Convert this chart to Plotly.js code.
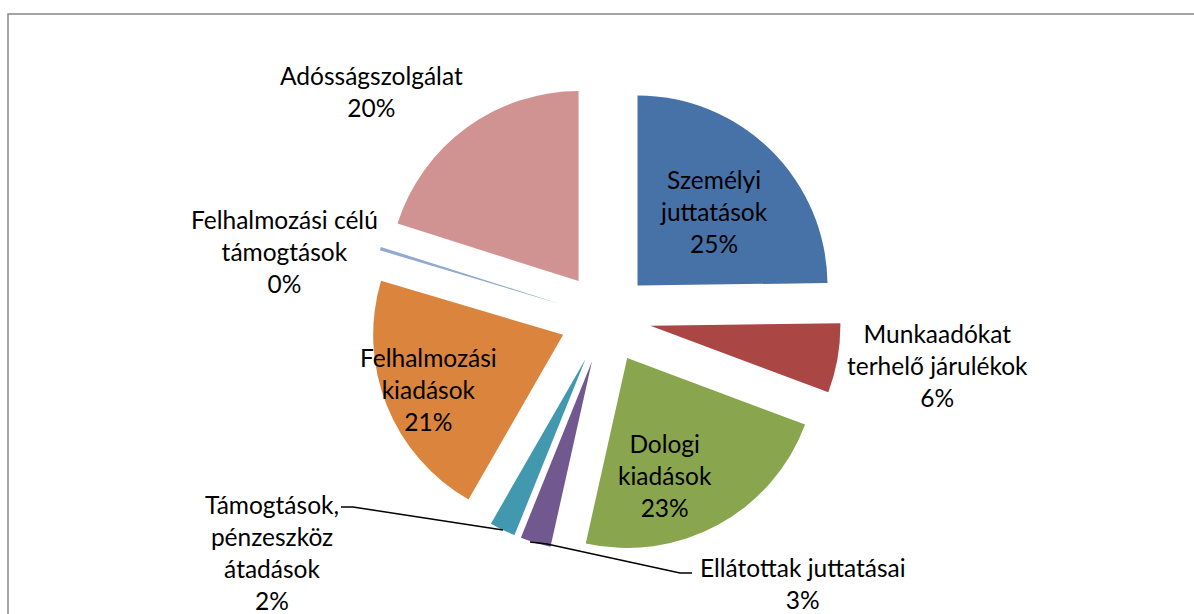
<!DOCTYPE html>
<html>
<head>
<meta charset="utf-8">
<script src="https://cdn.plot.ly/plotly-3.0.1.min.js"></script>
<style>html,body{margin:0;padding:0;background:#fff;}#chart{width:1194px;height:614px;}</style>
</head>
<body>
<div id="chart"></div>
<script>
// ---- data ----
const categories = [
  'Személyi juttatások',
  'Munkaadókat terhelő járulékok',
  'Dologi kiadások',
  'Ellátottak juttatásai',
  'Támogtások, pénzeszköz átadások',
  'Felhalmozási kiadások',
  'Felhalmozási célú támogtások',
  'Adósságszolgálat'
];
const values = [24.8, 5.9, 22.8, 2.6, 2.2, 21.3, 0.3, 20.1];
const displayLabels = [
  'Személyi<br>juttatások',
  'Munkaadókat<br>terhelő járulékok',
  'Dologi<br>kiadások',
  'Ellátottak juttatásai',
  'Támogtások,<br>pénzeszköz<br>átadások',
  'Felhalmozási<br>kiadások',
  'Felhalmozási célú<br>támogtások',
  'Adósságszolgálat'
];
const colors = ['#4672A8','#AA4643','#89A54E','#71588F','#4198AF','#DB843D','#93A9CF','#D19392'];

// ---- layout helpers (pixel -> paper) ----
const W = 1194, H = 614;
const px = x => x / W;
const py = y => 1 - y / H;
const labelPos = [[714,212],[937,365],[665,475],[803,583],[272,552],[428,390],[284,252],[371,91]];

const total = values.reduce((a,b)=>a+b,0);
const annotations = categories.map((c,i)=>({
  x: px(labelPos[i][0]), y: py(labelPos[i][1]), xref:'paper', yref:'paper',
  xanchor:'center', yanchor:'middle', showarrow:false, align:'center',
  text: displayLabels[i] + '<br>' + Math.round(values[i]/total*100) + '%',
  font:{family:'Lato, sans-serif', size:24.5, color:'#000'}
}));

function pathOf(pts){ return pts.map((p,i)=>(i?'L':'M')+px(p[0])+','+py(p[1])).join(' '); }

const shapes = [
  {type:'rect', xref:'paper', yref:'paper', x0:px(8), x1:px(1210), y0:py(14), y1:py(630),
   line:{color:'#868686', width:1.5}, fillcolor:'rgba(0,0,0,0)'},
  {type:'path', xref:'paper', yref:'paper', path:pathOf([[341,507],[353,507],[503,530]]), line:{color:'#000', width:1.5}},
  {type:'path', xref:'paper', yref:'paper', path:pathOf([[530,542],[547,544],[680,573],[692,573]]), line:{color:'#000', width:1.5}}
];

const trace = {
  type:'pie', labels:categories, values:values, sort:false, direction:'clockwise', rotation:0,
  marker:{colors:colors, line:{width:0}},
  pull: categories.map(()=>0.24),
  textinfo:'none', hoverinfo:'label+percent', showlegend:false,
  domain:{x:[0.3098,0.7044], y:[0.0985,0.8660]}
};

const layout = {
  width:W, height:H, margin:{l:0,r:0,t:0,b:0},
  paper_bgcolor:'#fff', plot_bgcolor:'#fff', showlegend:false,
  annotations:annotations, shapes:shapes
};
Plotly.newPlot('chart',[trace],layout,{displayModeBar:false, staticPlot:true});
</script>
</body>
</html>
